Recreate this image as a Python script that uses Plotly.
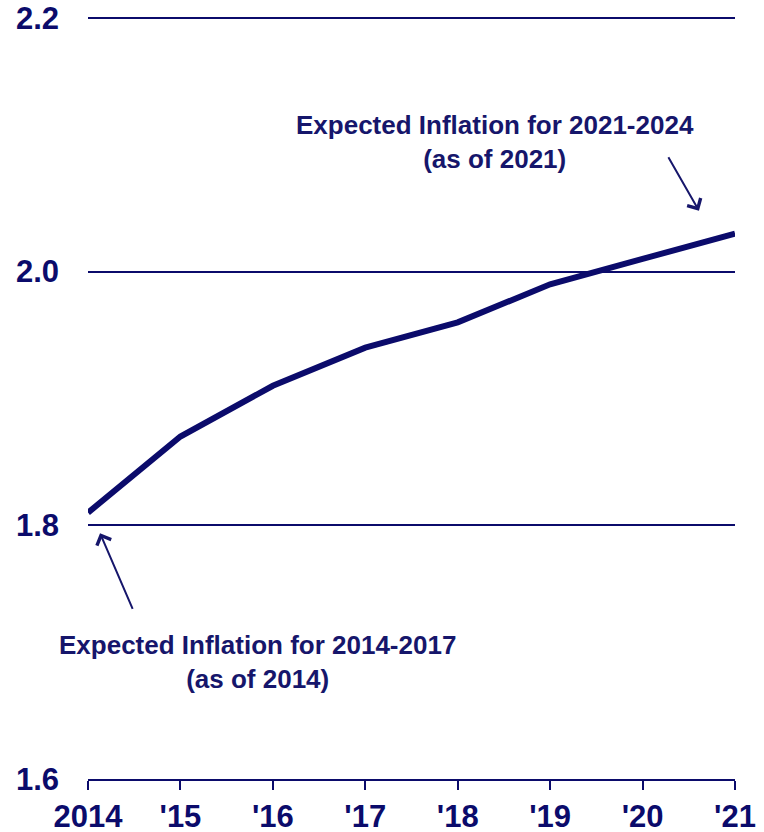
import plotly.graph_objects as go

years = [2014, 2015, 2016, 2017, 2018, 2019, 2020, 2021]
expected_inflation = [1.81, 1.87, 1.91, 1.94, 1.96, 1.99, 2.01, 2.03]
tick_labels = ["2014", "'15", "'16", "'17", "'18", "'19", "'20", "'21"]
y_ticks = [1.6, 1.8, 2.0, 2.2]

NAVY = "#0b0b6b"
TXT = "#16166b"
FONT = "Liberation Sans, Arial, sans-serif"

fig = go.Figure()
fig.add_trace(go.Scatter(
    x=years, y=expected_inflation, mode="lines",
    line=dict(color=NAVY, width=6), hoverinfo="skip", showlegend=False,
))

fig.update_layout(
    width=764, height=832,
    margin=dict(l=88, r=29, t=16, b=53),
    paper_bgcolor="white", plot_bgcolor="white",
    font=dict(family=FONT, color=NAVY),
    xaxis=dict(
        range=[2014, 2021], tickmode="array", tickvals=years, ticktext=tick_labels,
        showgrid=False, zeroline=False, showline=True, linecolor=NAVY, linewidth=2,
        ticks="outside", ticklen=9, tickwidth=2, tickcolor=NAVY,
        tickfont=dict(family=FONT, size=31, color=NAVY, weight="bold"),
        ticklabelstandoff=0, automargin=False,
    ),
    yaxis=dict(
        range=[1.6, 2.2015], tickmode="array", tickvals=y_ticks,
        ticktext=["%.1f" % v for v in y_ticks],
        showgrid=True, gridcolor=NAVY, gridwidth=2, zeroline=False, showline=False,
        ticks="", tickfont=dict(family=FONT, size=31, color=NAVY, weight="bold"),
        ticklabelstandoff=28, automargin=False,
    ),
    showlegend=False,
)

# Annotation texts
fig.add_annotation(
    x=2018.40, y=2.1025, xref="x", yref="y", showarrow=False,
    text="<b>Expected Inflation for 2021-2024<br>(as of 2021)</b>",
    font=dict(family=FONT, size=26, color=TXT), align="center",
)
fig.add_annotation(
    x=2015.83, y=1.692, xref="x", yref="y", showarrow=False,
    text="<b>Expected Inflation for 2014-2017<br>(as of 2014)</b>",
    font=dict(family=FONT, size=26, color=TXT), align="center",
)

# Arrows
fig.add_annotation(
    x=2020.61, y=2.048, ax=2020.27, ay=2.0914, xref="x", yref="y",
    axref="x", ayref="y", text="", showarrow=True,
    arrowhead=4, arrowsize=1.5, arrowwidth=2, arrowcolor=TXT,
)
fig.add_annotation(
    x=2014.13, y=1.7937, ax=2014.49, ay=1.733, xref="x", yref="y",
    axref="x", ayref="y", text="", showarrow=True,
    arrowhead=4, arrowsize=1.5, arrowwidth=2, arrowcolor=TXT,
)

fig.write_html(
    "out.html",
    config={"displayModeBar": False},
    post_script="document.body.style.margin='0';document.documentElement.style.overflow='hidden';",
)
